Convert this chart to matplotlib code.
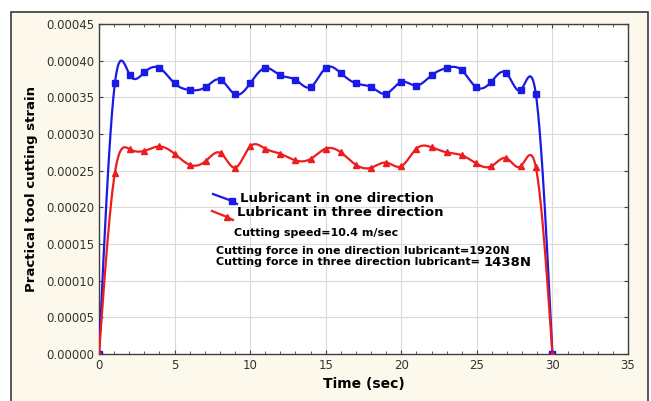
import numpy as np
import matplotlib
matplotlib.use('Agg')
import matplotlib.pyplot as plt
from matplotlib.patches import Rectangle
from matplotlib.lines import Line2D
from matplotlib.ticker import MultipleLocator, FormatStrFormatter

plt.rcParams['font.family'] = ['DejaVu Sans']

# data (time in sec, strain)
time = [0, 1.05, 2.05, 3.0, 4.0, 5.0, 6.0, 7.05, 8.05, 9.0, 10.0, 11.0, 12.0, 13.0, 14.0,
        15.0, 16.0, 17.0, 18.0, 19.0, 20.0, 21.0, 22.0, 23.0, 24.0, 24.95, 25.95, 26.95,
        27.9, 28.9, 30.0]
one_dir = [0, 3.69, 3.80, 3.84, 3.90, 3.69, 3.60, 3.64, 3.74, 3.54, 3.69, 3.90, 3.80, 3.74,
           3.64, 3.90, 3.83, 3.69, 3.64, 3.55, 3.71, 3.66, 3.80, 3.90, 3.87, 3.64, 3.71,
           3.83, 3.60, 3.55, 0]
three_dir = [0, 2.47, 2.79, 2.77, 2.83, 2.73, 2.58, 2.63, 2.74, 2.54, 2.83, 2.80, 2.73, 2.64,
             2.66, 2.80, 2.75, 2.58, 2.54, 2.61, 2.56, 2.80, 2.82, 2.75, 2.71, 2.60, 2.56,
             2.67, 2.56, 2.55, 0]
one_dir = [v * 1e-4 for v in one_dir]
three_dir = [v * 1e-4 for v in three_dir]

labels = ['Lubricant in one direction', 'Lubricant in three direction']
notes = ['Cutting speed=10.4 m/sec',
         'Cutting force in one direction lubricant=1920N',
         'Cutting force in three direction lubricant=']
force3 = '1438N'


def spline(x, y, n=600):
    # natural cubic spline, like the smoothed line of the original plot
    x = np.asarray(x, float)
    y = np.asarray(y, float)
    k = len(x)
    h = np.diff(x)
    A = np.zeros((k, k))
    b = np.zeros(k)
    A[0, 0] = A[-1, -1] = 1
    for i in range(1, k - 1):
        A[i, i - 1] = h[i - 1]
        A[i, i] = 2 * (h[i - 1] + h[i])
        A[i, i + 1] = h[i]
        b[i] = 6 * ((y[i + 1] - y[i]) / h[i] - (y[i] - y[i - 1]) / h[i - 1])
    M = np.linalg.solve(A, b)
    xs = np.linspace(x[0], x[-1], n)
    j = np.clip(np.searchsorted(x, xs) - 1, 0, k - 2)
    t0, t1 = x[j], x[j + 1]
    hh = t1 - t0
    ys = (M[j] * (t1 - xs) ** 3 / (6 * hh) + M[j + 1] * (xs - t0) ** 3 / (6 * hh)
          + (y[j] / hh - M[j] * hh / 6) * (t1 - xs) + (y[j + 1] / hh - M[j + 1] * hh / 6) * (xs - t0))
    return xs, ys


blue = '#1a1ae6'
red = '#ee1c1c'

fig = plt.figure(figsize=(6.51, 4.01), dpi=100)
fig.patch.set_facecolor('white')
fig.add_artist(Rectangle((11 / 651, -0.05), 637 / 651, 1.05 - 12 / 401,
                         transform=fig.transFigure, facecolor='#fdf8ec',
                         edgecolor='#3a3a3a', linewidth=1.2, zorder=-5))

ax = fig.add_axes([99 / 651, 1 - 354 / 401, 529 / 651, 330 / 401])
ax.set_facecolor('white')
ax.set_zorder(2)

xs, ys = spline(time, one_dir)
ax.plot(xs, ys, color=blue, lw=1.6, zorder=3)
ax.plot(time, one_dir, 's', color=blue, ms=5, zorder=4)
xs, ys = spline(time, three_dir)
ax.plot(xs, ys, color=red, lw=1.6, zorder=3)
ax.plot(time, three_dir, '^', color=red, ms=5, zorder=4)

ax.set_xlim(0, 35)
ax.set_ylim(0, 0.00045)
ax.xaxis.set_major_locator(MultipleLocator(5))
ax.xaxis.set_minor_locator(MultipleLocator(1))
ax.yaxis.set_major_locator(MultipleLocator(0.00005))
ax.yaxis.set_major_formatter(FormatStrFormatter('%.5f'))
ax.grid(True, color='#dadada', lw=0.8)
ax.set_axisbelow(True)
ax.tick_params(which='both', direction='in', top=True, right=True, colors='#444444',
               labelcolor='#333333', labelsize=8.5)
ax.tick_params(which='major', length=3)
ax.tick_params(which='minor', length=2)
for s in ax.spines.values():
    s.set_color('#404040')
    s.set_linewidth(1.0)

ax.set_xlabel('Time (sec)', fontsize=10, fontweight='bold', labelpad=4)
ax.set_ylabel('Practical tool cutting strain', fontsize=9.5, fontweight='bold', labelpad=6)

# hand drawn legend
tr = fig.transFigure
def fx(p):
    return p / 651
def fy(p):
    return 1 - p / 401
fig.add_artist(Line2D([fx(213), fx(232), fx(237)], [fy(194), fy(201), fy(204)], color=blue,
                      lw=1.6, marker='s', markevery=[1], ms=5, transform=tr, zorder=5))
fig.add_artist(Line2D([fx(212), fx(227), fx(233)], [fy(211), fy(217), fy(220)], color=red,
                      lw=1.6, marker='^', markevery=[1], ms=5, transform=tr, zorder=5))
fig.text(fx(240), fy(198), labels[0], fontsize=9.5, fontweight='bold', va='center', zorder=5)
fig.text(fx(237), fy(213), labels[1], fontsize=9.5, fontweight='bold', va='center', zorder=5)
fig.text(fx(234), fy(233), notes[0], fontsize=8, fontweight='bold', va='center', zorder=5)
fig.text(fx(216), fy(251), notes[1], fontsize=8, fontweight='bold', va='center', zorder=5)
t = fig.text(fx(216), fy(262), notes[2], fontsize=8, fontweight='bold', va='center', zorder=5)
fig.canvas.draw()
bb = t.get_window_extent()
fig.text(bb.x1 / fig.bbox.width + 4 / 651, fy(263), force3, fontsize=9.5,
         fontweight='bold', va='center', zorder=5)

fig.savefig('out.png', dpi=100)
